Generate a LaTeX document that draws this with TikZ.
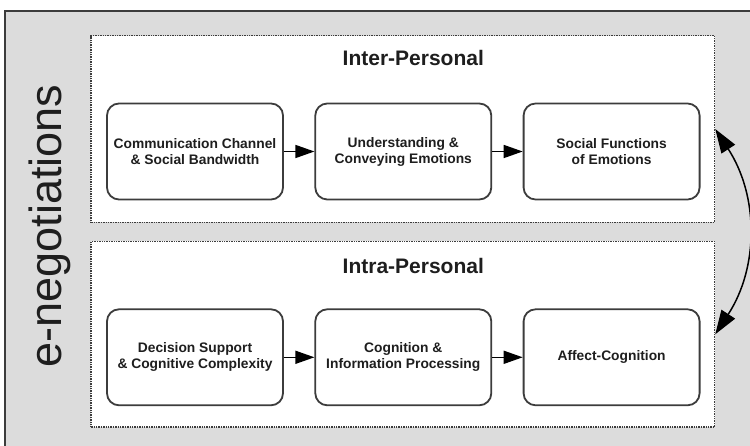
\documentclass[tikz,border=0pt]{standalone}
\usepackage{fontspec}
\setmainfont{Liberation Sans}
\usepackage{tikz}
\usetikzlibrary{arrows.meta, positioning, backgrounds, fit, calc}
\definecolor{framegray}{RGB}{220,220,220}
\definecolor{linegray}{RGB}{60,60,60}
\definecolor{inkgray}{RGB}{30,30,30}
\tikzset{%
	stage/.style={draw=linegray, line width=1.8pt, rectangle, rounded corners=12pt,%
		minimum width=176pt, minimum height=96pt, fill=white, align=center,%
		text=inkgray, font=\fontsize{13.8}{16}\selectfont\bfseries},
	panel/.style={draw=linegray, line width=1.5pt, dash pattern=on 1.4pt off 1pt,%
		fill=white, inner sep=0pt},
	frame/.style={draw=linegray, line width=2pt, fill=framegray},
	heading/.style={inner sep=0pt, text=inkgray, font=\fontsize{21}{24}\selectfont\bfseries},
	flow/.style={-{Triangle[length=19pt,width=13pt]}, line width=1.5pt, draw=black},
	link/.style={{Triangle[length=24pt,width=16pt]}-{Triangle[length=24pt,width=16pt]},%
		line width=1.5pt, draw=black}
}
\begin{document}
\begin{tikzpicture}[x=1pt, y=1pt, node distance=108pt and 30.5pt]
		\useasboundingbox (0,0) rectangle (750,-446);
		\node[stage] (comm) at (195,-151.5) {Communication Channel\\\& Social Bandwidth};
		\node[stage] (emo)  [right=of comm] {Understanding \&\\Conveying Emotions};
		\node[stage] (soc)  [right=of emo]  {Social Functions\\of Emotions};
		\node[stage] (dec)  [below=of comm] {Decision Support\\\& Cognitive Complexity};
		\node[stage] (cog)  [below=of emo]  {Cognition \&\\Information Processing};
		\node[stage] (aff)  [below=of soc]  {Affect-Cognition};
		\node[heading, anchor=base] (inter) at ($(emo.north)+(10pt,37pt)$) {Inter-Personal};
		\node[heading, anchor=base] (intra) at ($(cog.north)+(10pt,35pt)$) {Intra-Personal};
		\node[rotate=90, inner sep=0pt, text=inkgray, font=\fontsize{45}{50}\selectfont] (eneg) at (50,-226) {e-negotiations};
		\path ($(comm.north west)+(-15pt,67pt)$) coordinate (inter-nw)
		      ($(soc.south east)+(14pt,-22pt)$) coordinate (inter-se)
		      ($(dec.north west)+(-15pt,67pt)$) coordinate (intra-nw)
		      ($(aff.south east)+(14pt,-21pt)$) coordinate (intra-se);
		\draw [flow] (comm) to (emo);
		\draw [flow] (emo) to (soc);
		\draw [flow] (dec) to (cog);
		\draw [flow] (cog) to (aff);

		\begin{scope}[on background layer]
			\draw [frame] (5,-11) rectangle (757,-453);
			\node [panel, fit=(inter-nw) (inter-se)] (inter-box) {};
			\node [panel, fit=(intra-nw) (intra-se)] (intra-box) {};
		\end{scope}
		\draw [link] (inter-box.east) to[bend left=33] (intra-box.east);
	\end{tikzpicture}
\end{document}
